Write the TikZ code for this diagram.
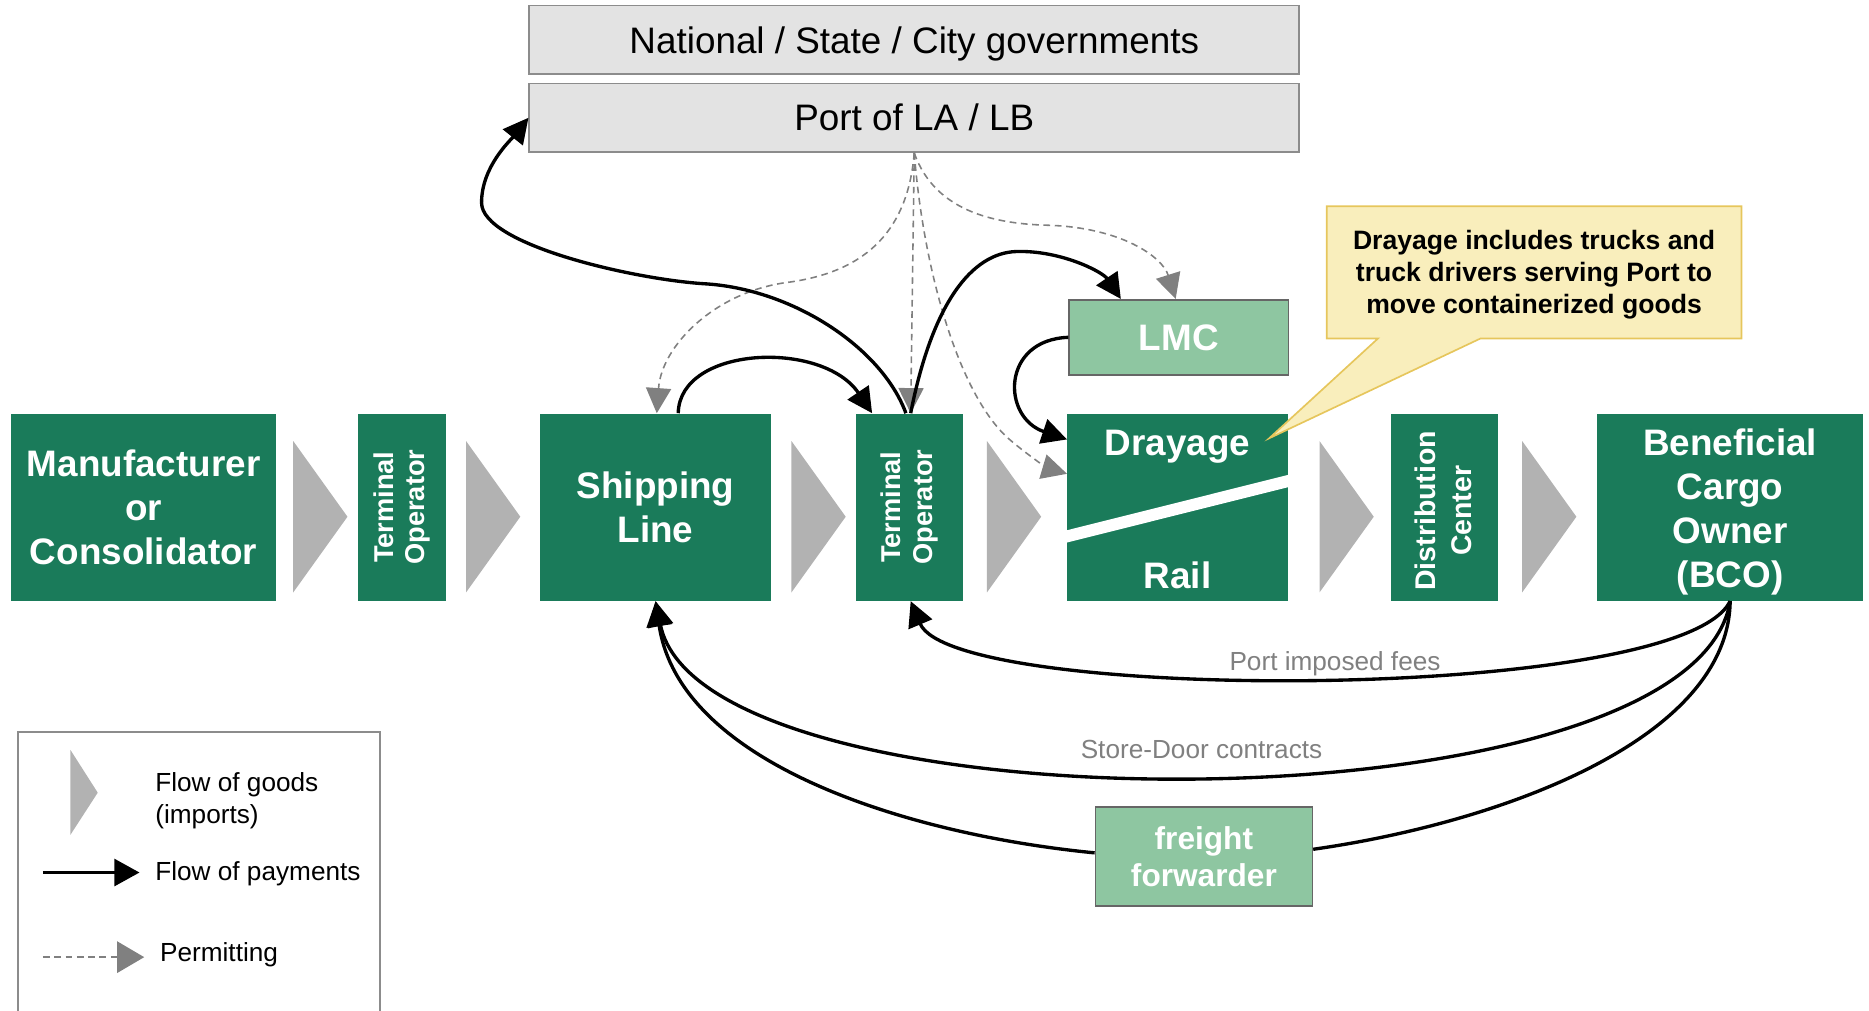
\documentclass[tikz,border=0pt]{standalone}
\usepackage{fontspec}
\setmainfont{Liberation Sans}
\usepackage{tikz}
\usetikzlibrary{arrows.meta, shapes.callouts, calc}
\definecolor{darkgreen}{RGB}{26,123,90}
\definecolor{lightgreen}{RGB}{142,198,161}
\definecolor{chevgray}{RGB}{178,178,178}
\definecolor{govfill}{RGB}{227,227,227}
\definecolor{govedge}{RGB}{140,140,140}
\definecolor{notefill}{RGB}{249,238,188}
\definecolor{noteedge}{RGB}{230,198,92}
\definecolor{permitgray}{RGB}{128,128,128}
\tikzset{
    box/.style={rectangle, fill=darkgreen, minimum height=3.14cm, inner sep=0pt, align=center, text=white, font=\bfseries\fontsize{17.6}{21}\selectfont},
    boxtext/.style={align=center, text=white, inner sep=0pt, font=\bfseries\fontsize{17.6}{21}\selectfont},
    sidetext/.style={rotate=90, align=center, text=white, inner sep=0pt, font=\bfseries\fontsize{13}{15}\selectfont},
    lightbox/.style={rectangle, draw=black!60, line width=0.8pt, fill=lightgreen, inner sep=0pt, align=center, text=white},
    govbox/.style={rectangle, draw=govedge, line width=0.8pt, fill=govfill, minimum width=12.92cm, minimum height=1.15cm, font=\fontsize{17.6}{21}\selectfont},
    notebox/.style={rectangle callout, draw=noteedge, line width=0.8pt, fill=notefill},
    notetext/.style={align=center, inner sep=0pt, font=\bfseries\fontsize{12.7}{15.4}\selectfont},
    chevron/.style={fill=chevgray},
    pay/.style={-{Triangle[length=12pt, width=12pt]}, line width=1.6pt},
    permit/.style={-{Triangle[length=12pt, width=12pt]}, permitgray, line width=0.75pt, dash pattern=on 3.2pt off 2.2pt},
    feetext/.style={text=permitgray, font=\fontsize{12.5}{15}\selectfont},
    legendtext/.style={anchor=west, align=left, inner sep=0pt, font=\fontsize{12.5}{15.4}\selectfont}
}

\begin{document}
\begin{tikzpicture}[x=0.02cm, y=-0.02cm]
    \useasboundingbox (0,0) rectangle (1568,848);

    % Government boxes
    \node[govbox, text depth=0pt] (gov) at (767,33.3) {National / State / City governments};
    \node[govbox] (port) at (767,98.8) {Port of LA / LB};

    % Chain of goods
    \node[box, minimum width=4.44cm] (mfr) at (120.5,425.5) {Manufacturer\\or\\Consolidator};
    \node[box, minimum width=1.48cm] (top1) at (337,425.5) {};
    \node[sidetext] (top1txt) at (top1) {Terminal\\Operator};
    \node[box, minimum width=3.88cm] (ship) at (550,425.5) {Shipping\\Line};
    \node[box, minimum width=1.8cm] (top2) at (763,425.5) {};
    \node[sidetext] (top2txt) at (top2) {Terminal\\Operator};
    \node[box, minimum width=3.7cm] (dray) at (988,425.5) {};
    \node[box, minimum width=1.8cm] (dist) at (1212,425.5) {};
    \node[sidetext, font=\bfseries\fontsize{13.6}{17.3}\selectfont] (disttxt) at ($(dist)+(-1,3)$) {Distribution\\Center};
    \node[box, minimum width=4.46cm] (bco) at (1451.5,425.5) {};
    \node[boxtext] (bcotxt) at ($(bco)+(0,4)$) {Beneficial\\Cargo\\Owner\\(BCO)};

    % Drayage / Rail split
    \draw[white, line width=0.2cm, shorten <=-4pt, shorten >=-4pt] ($(dray.west)+(0,24.5)$) -- ($(dray.east)+(0,-22)$);
    \node[boxtext] (draytxt) at ($(dray.north)+(0,28)$) {Drayage};
    \node[boxtext] (railtxt) at ($(dray.south)+(0,-22)$) {Rail};

    % Chevrons
    \foreach \x in {246,391,664,828,1107,1277}
        \fill[chevron] (\x,370) -- ++(45.5,63.5) -- ++(-45.5,63.5) -- cycle;

    % Side boxes
    \node[lightbox, minimum width=3.68cm, minimum height=1.26cm, font=\bfseries\fontsize{17.6}{21}\selectfont] (lmc) at (989,283) {LMC};
    \node[lightbox, minimum width=3.64cm, minimum height=1.66cm, font=\bfseries\fontsize{15.1}{17.5}\selectfont] (ff) at (1010,718.5) {freight\\forwarder};

    % Note on drayage
    \coordinate (notetip) at ($(dray.north east)+(-16,21)$);
    \node[notebox, minimum width=6.96cm, minimum height=2.22cm, callout absolute pointer={(notetip)}, callout pointer width=1.72cm] (drnote) at (1287,228.5) {};
    \node[notetext] (drnotetxt) at ($(drnote.center)+(0,2)$) {Drayage includes trucks and\\truck drivers serving Port to\\move containerized goods};

    % Permitting
    \draw[permit] (port.south) .. controls (762,190) and (730,228) .. (660,237)
        .. controls (600,245) and (555,290) .. ($(ship.north)+(1,0)$);
    \draw[permit] (port.south) -- ($(top2.north)+(1,0)$);
    \draw[permit] (port.south) .. controls (775,230) and (805,330) .. (845,367)
        .. controls (862,382) and (880,393) .. ($(dray.west)+(0,-28)$);
    \draw[permit] (port.south) .. controls (785,180) and (840,188) .. (880,189)
        .. controls (940,191) and (975,215) .. ($(lmc.north west)+(90,0)$);

    % Payments
    \draw[pay] ($(top2.north)+(-3,0)$) .. controls (740,292) and (665,242) .. (590,238)
        .. controls (530,234) and (404,205) .. (404,170)
        .. controls (404,140) and (428,118) .. (port.west);
    \draw[pay] ($(ship.north)+(19,0)$) .. controls (570,290) and (690,285) .. ($(top2.north west)+(14,0)$);
    \draw[pay] ($(top2.north)+(1,0)$) .. controls (782,255) and (815,212) .. (853,211)
        .. controls (890,210) and (925,228) .. ($(lmc.north west)+(44,0)$);
    \draw[pay] (lmc.west) .. controls (840,285) and (840,350) .. ($(dray.north west)+(0,22)$);
    \draw[pay] (bco.south) .. controls (1410,590) and (800,590) .. ($(top2.south)+(1,0)$);
    \draw[pay] (bco.south) .. controls (1420,700) and (590,700) .. (ship.south);
    \draw[line width=1.6pt] (bco.south) .. controls (1450,620) and (1260,690) .. ($(ff.east)+(0,-6)$);
    \draw[pay] ($(ff.west)+(0,-3)$) .. controls (760,700) and (570,640) .. (ship.south);
    \node[feetext] (feelbl) at (1120,557) {Port imposed fees};
    \node[feetext] (doorlbl) at (1008,629) {Store-Door contracts};

    % Legend
    \draw[govedge, line width=0.8pt] (15,850) -- (15,614) -- (319,614) -- (319,850);
    \fill[chevron] (59,629) -- (82,665) -- (59,700.5) -- cycle;
    \node[legendtext] (goodslbl) at (130,671.5) {Flow of goods\\(imports)};
    \coordinate (payA) at (36,732);
    \coordinate (payB) at (117,732);
    \draw[pay, line width=1pt, -{Triangle[length=12pt, width=13pt]}] (payA) -- (payB);
    \node[legendtext] (paylbl) at (130,733) {Flow of payments};
    \coordinate (permA) at (36,803);
    \coordinate (permB) at (121,803);
    \draw[permit, line width=1pt, -{Triangle[length=13pt, width=15pt]}] (permA) -- (permB);
    \node[legendtext] (permlbl) at (134,801) {Permitting};
\end{tikzpicture}
\end{document}
